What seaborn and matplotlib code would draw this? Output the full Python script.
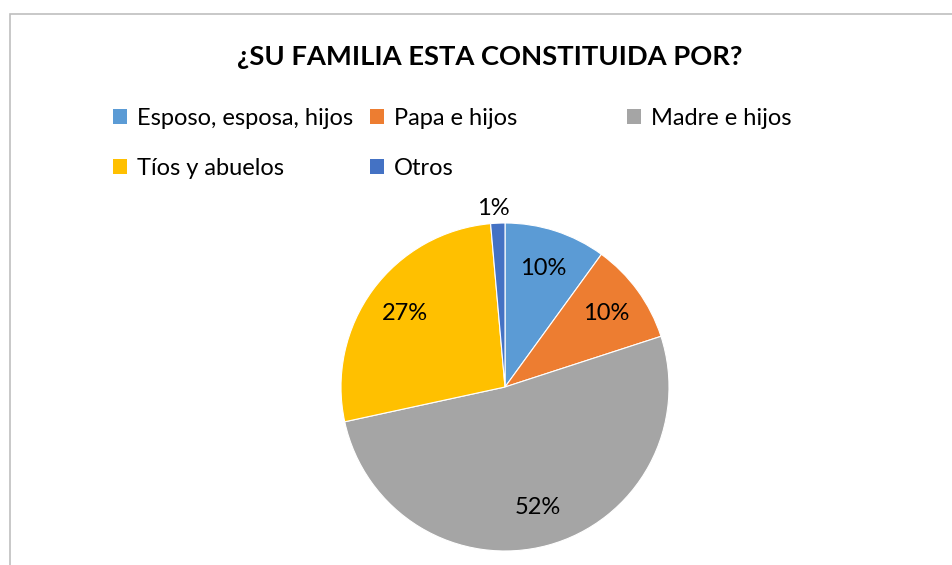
import matplotlib
import matplotlib.pyplot as plt
import seaborn as sns
from matplotlib.patches import Patch, Rectangle

# DATA
categorias = ['Esposo, esposa, hijos', 'Papa e hijos', 'Madre e hijos', 'Tíos y abuelos', 'Otros']
porcentajes = [10, 10, 51.6, 27, 1.4]
colores = ['#5B9BD5', '#ED7D31', '#A5A5A5', '#FFC000', '#4472C4']

sns.set_theme(style='white')
plt.rcParams['font.family'] = ['Lato', 'DejaVu Sans']

fig = plt.figure(figsize=(9.52, 5.65), dpi=100)
fig.patch.set_facecolor('white')

# chart border (left and top visible)
fig.patches.append(Rectangle((9.5 / 952, -0.1), 1.2, 1.1 - 14 / 565, transform=fig.transFigure,
                             fill=False, edgecolor='#BFBFBF', linewidth=1.2))

ax = fig.add_axes([(505 - 205) / 952, (565 - 387 - 205) / 565, 410 / 952, 410 / 565])
wedges, texts, autotexts = ax.pie(porcentajes, colors=sns.color_palette(colores), startangle=90,
                                  counterclock=False, autopct='%.0f%%', pctdistance=0.76,
                                  wedgeprops={'edgecolor': 'white', 'linewidth': 0.8},
                                  textprops={'fontsize': 17, 'color': 'black'})
ax.set_aspect('equal')

# move the small slice label outside
autotexts[4].set_position((-0.07, 1.09))

fig.text(0.514, 1 - 57 / 565, '¿SU FAMILIA ESTA CONSTITUIDA POR?', ha='center', va='center',
         fontsize=19.7, fontweight='bold', color='black')

# legend laid out like Excel: equal-width columns, row-major order
columnas = [[0, 3], [1, 4], [2]]
col_x = [113, 370, 627]
for idx, x in zip(columnas, col_x):
    handles = [Patch(facecolor=colores[i], edgecolor='none') for i in idx]
    labels = [categorias[i] for i in idx]
    fig.legend(handles, labels, loc='upper left', bbox_to_anchor=(x / 952, 1 - 108 / 565),
               frameon=False, fontsize=17, borderpad=0, borderaxespad=0, labelcolor='black',
               handlelength=0.6, handleheight=0.6, handletextpad=0.4, labelspacing=1.22)

plt.savefig('out.png', dpi=100, facecolor='white')
